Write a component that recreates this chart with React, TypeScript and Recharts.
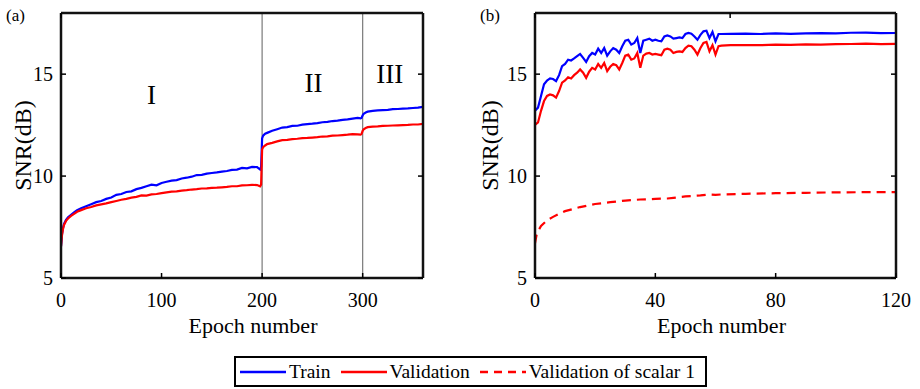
import { LineChart, Line, XAxis, YAxis, ReferenceLine, ReferenceDot, Label } from 'recharts';

const FONT = '"Liberation Serif", "Times New Roman", serif';
const BLUE = '#0000ff';
const RED = '#ff0000';
const TICK_LEN = 5;

// panel (a): stage training, 0-360 epochs
const epochsA = [
  0, 1, 2, 3, 5, 7, 10, 13, 16,
  20, 25, 30, 35, 40, 45, 50, 55, 60, 65, 70, 75, 80, 85, 90, 95,
  100, 105, 110, 115, 120, 125, 130, 135, 140, 145, 150, 155, 160, 165, 170, 175, 180, 185, 190, 195,
  198, 199, 200, 201, 203, 205,
  210, 215, 220, 225, 230, 235, 240, 245, 250, 255, 260, 265, 270, 275, 280, 285, 290, 295,
  298, 299, 300, 301, 303, 305,
  310, 315, 320, 325, 330, 335, 340, 345, 350, 355, 360,
];
const trainA = [
  6.55, 7.15, 7.45, 7.65, 7.85, 7.98, 8.1, 8.22, 8.32,
  8.42, 8.52, 8.62, 8.72, 8.78, 8.88, 8.95, 9.08, 9.12, 9.22, 9.25, 9.36, 9.42, 9.5, 9.58, 9.55,
  9.66, 9.72, 9.78, 9.8, 9.88, 9.92, 9.97, 10.05, 10.06, 10.12, 10.15, 10.18, 10.22, 10.25, 10.3, 10.32, 10.4, 10.38, 10.45, 10.44,
  10.32, 10.45, 11.85, 11.98, 12.08, 12.12,
  12.22, 12.3, 12.38, 12.4, 12.46, 12.47, 12.52, 12.55, 12.57, 12.6, 12.64, 12.66, 12.7, 12.72, 12.76, 12.78, 12.82, 12.85,
  12.83, 12.86, 12.98, 13.06, 13.12, 13.16,
  13.2, 13.22, 13.24, 13.25, 13.28, 13.29, 13.31, 13.32, 13.34, 13.36, 13.4,
];
const valA = [
  6.55, 7.1, 7.4, 7.6, 7.8, 7.92, 8.05, 8.15, 8.25,
  8.33, 8.42, 8.48, 8.56, 8.61, 8.66, 8.72, 8.78, 8.84, 8.88, 8.94, 8.98, 9.05, 9.04, 9.1, 9.12,
  9.16, 9.2, 9.24, 9.25, 9.29, 9.31, 9.34, 9.36, 9.39, 9.4, 9.42, 9.43, 9.45, 9.47, 9.5, 9.5, 9.54, 9.55, 9.57, 9.56,
  9.5, 9.58, 11.3, 11.42, 11.5, 11.57,
  11.63, 11.7, 11.76, 11.78, 11.81, 11.83, 11.86, 11.87, 11.89, 11.91, 11.94, 11.95, 11.98, 11.99, 12.01, 12.03, 12.06, 12.05,
  12.03, 12.08, 12.22, 12.3, 12.36, 12.4,
  12.43, 12.44, 12.46, 12.47, 12.48, 12.49, 12.5, 12.51, 12.53, 12.53, 12.56,
];
const stageBounds = [200, 300];
const stageLabels = [
  { text: 'I', epoch: 90, snr: 14.0 },
  { text: 'II', epoch: 251, snr: 14.6 },
  { text: 'III', epoch: 327, snr: 15.05 },
];

// panel (b): 0-120 epochs
const epochsB = [
  0, 1, 2, 3, 4, 5, 6, 7, 8, 9, 10, 11, 12, 13, 14, 15, 16, 17, 18, 19, 20,
  21, 22, 23, 24, 25, 26, 27, 28, 29, 30, 31, 32, 33, 34, 35, 36, 37, 38, 39, 40,
  41, 42, 43, 44, 45, 46, 47, 48, 49, 50, 51, 52, 53, 54, 55, 56, 57, 58, 59, 60, 61, 62,
  65, 70, 75, 80, 85, 90, 95, 100, 105, 110, 115, 120,
];
const trainB = [
  13.2, 13.36, 13.93, 14.5, 14.69, 14.79, 14.76, 14.66, 14.95, 15.39,
  15.5, 15.71, 15.67, 15.77, 15.88, 15.99, 15.8, 15.6, 15.88, 16.04,
  15.96, 16.25, 16.04, 16.28, 15.91, 16.12, 16.28, 16.2, 16.04, 16.37,
  16.64, 16.69, 16.45, 16.53, 16.77, 16.04, 16.64, 16.69, 16.74, 16.64,
  16.69, 16.64, 16.61, 16.85, 16.9, 16.85, 16.74, 16.77, 16.8, 16.77,
  16.97, 17.02, 16.98, 16.85, 16.69, 16.93, 17.1, 17.13, 16.77, 17.07,
  16.61, 16.97, 16.97,
  16.98, 16.99, 16.97, 17.0, 16.98, 17.0, 17.01, 17.0, 17.03, 17.04, 17.01, 17.02,
];
const valB = [
  12.51, 12.63, 13.2, 13.68, 13.93, 14.0, 13.96, 13.85, 14.17, 14.58,
  14.69, 14.85, 14.79, 14.95, 15.07, 15.23, 15.07, 14.82, 15.12, 15.31,
  15.23, 15.5, 15.31, 15.55, 15.15, 15.36, 15.5, 15.44, 15.23, 15.55,
  15.91, 15.96, 15.71, 15.77, 16.04, 15.31, 15.91, 16.01, 16.04, 15.96,
  15.99, 15.96, 15.93, 16.2, 16.25, 16.2, 16.04, 16.09, 16.12, 16.09,
  16.28, 16.4, 16.37, 16.2, 15.96, 16.28, 16.53, 16.58, 16.12, 16.42,
  15.96, 16.37, 16.4,
  16.42, 16.43, 16.42, 16.45, 16.44, 16.46, 16.45, 16.47, 16.48, 16.5, 16.47, 16.49,
];
const epochsScalar = [0, 0.5, 1, 2, 4, 6, 8, 10, 15, 20, 25, 30, 35, 40, 44, 46, 50, 55, 58, 60, 62, 70, 80, 90, 100, 110, 120];
const valScalar = [
  6.7, 7.1, 7.3, 7.55, 7.83, 8.0, 8.15, 8.28, 8.48, 8.63, 8.72, 8.8, 8.85, 8.88,
  8.9, 8.93, 9.0, 9.05, 9.1, 9.08, 9.1, 9.13, 9.16, 9.18, 9.2, 9.21, 9.21,
];

const snrTicks = [5, 10, 15];
const ticksA = [0, 100, 200, 300];
const ticksB = [0, 40, 80, 120];

const legendItems = [
  { name: 'Train', color: BLUE, dash: undefined as string | undefined },
  { name: 'Validation', color: RED, dash: undefined as string | undefined },
  { name: 'Validation of scalar 1', color: RED, dash: '8 6' },
];

const dataA = epochsA.map((epoch, i) => ({ epoch, train: trainA[i], val: valA[i] }));
const dataB = epochsB.map((epoch, i) => ({ epoch, train: trainB[i], val: valB[i] }));
const dataScalar = epochsScalar.map((epoch, i) => ({ epoch, scalar: valScalar[i] }));

// MATLAB-style ticks: pointing into the box
const BottomTick = (props: any) => {
  const { x, y, payload } = props;
  const axisY = y - 15;
  return (
    <g>
      <line x1={x} x2={x} y1={axisY} y2={axisY - TICK_LEN} stroke="#000" strokeWidth={1.5} />
      <text x={x} y={axisY + 29} textAnchor="middle" fontSize={20} fontFamily={FONT} fill="#000">
        {payload.value}
      </text>
    </g>
  );
};

const TopTick = (props: any) => {
  const { x, y } = props;
  return <line x1={x} x2={x} y1={y} y2={y + TICK_LEN} stroke="#000" strokeWidth={1.5} />;
};

const LeftTick = (props: any) => {
  const { x, y, payload } = props;
  const axisX = x + 8;
  return (
    <g>
      <line x1={axisX} x2={axisX + TICK_LEN} y1={y} y2={y} stroke="#000" strokeWidth={1.5} />
      <text x={x} y={y + 7} textAnchor="end" fontSize={20} fontFamily={FONT} fill="#000">
        {payload.value}
      </text>
    </g>
  );
};

const RightTick = (props: any) => {
  const { x, y } = props;
  return <line x1={x} x2={x - TICK_LEN} y1={y} y2={y} stroke="#000" strokeWidth={1.5} />;
};

const frame = { stroke: '#111', strokeWidth: 2.5 };

const PanelLabel = ({ text, left }: { text: string; left: number }) => (
  <div style={{ position: 'absolute', left, top: 7, fontFamily: FONT, fontSize: 17, lineHeight: '17px', color: '#000' }}>
    {text}
  </div>
);

const App = () => {
  return (
    <div style={{ position: 'absolute', left: 0, top: 0, width: 920, height: 389, background: '#fff', overflow: 'hidden' }}>
      <PanelLabel text="(a)" left={6} />
      <PanelLabel text="(b)" left={480} />

      <div style={{ position: 'absolute', left: 0, top: 0 }}>
        <LineChart width={460} height={345} data={dataA} margin={{ top: 12, right: 36, bottom: 7, left: 0 }}>
          <XAxis
            dataKey="epoch"
            type="number"
            domain={[0, 360]}
            allowDataOverflow
            ticks={ticksA}
            interval={0}
            height={60}
            tickSize={0}
            tickMargin={15}
            tick={BottomTick}
            axisLine={frame}
          >
            <Label value="Epoch number" position="insideBottom" offset={5} dx={11} fontSize={22} fontFamily={FONT} fill="#000" />
          </XAxis>
          <XAxis xAxisId="top" orientation="top" type="number" domain={[0, 360]} allowDataOverflow ticks={ticksA} interval={0} height={1} tickSize={0} tickMargin={0} tick={TopTick} axisLine={frame} />
          <YAxis
            type="number"
            domain={[5, 18]}
            allowDataOverflow
            ticks={snrTicks}
            interval={0}
            width={61}
            tickSize={0}
            tickMargin={8}
            tick={LeftTick}
            axisLine={frame}
          >
            <Label value="SNR(dB)" angle={-90} position="insideLeft" offset={22} fontSize={24} fontFamily={FONT} fill="#000" style={{ textAnchor: 'middle' }} />
          </YAxis>
          <YAxis yAxisId="right" orientation="right" type="number" domain={[5, 18]} allowDataOverflow ticks={snrTicks} interval={0} width={1} tickSize={0} tickMargin={0} tick={RightTick} axisLine={frame} />
          {stageBounds.map((b) => (
            <ReferenceLine key={b} x={b} stroke="#7a7a7a" strokeWidth={1.2} />
          ))}
          {stageLabels.map((s) => (
            <ReferenceDot
              key={s.text}
              x={s.epoch}
              y={s.snr}
              r={1}
              fill="none"
              stroke="none"
              label={{ value: s.text, position: 'center', fontSize: 27, fontFamily: FONT, fill: '#000' }}
            />
          ))}
          <Line type="linear" dataKey="train" stroke={BLUE} strokeWidth={2.2} dot={false} isAnimationActive={false} />
          <Line type="linear" dataKey="val" stroke={RED} strokeWidth={2.2} dot={false} isAnimationActive={false} />
        </LineChart>
      </div>

      <div style={{ position: 'absolute', left: 460, top: 0 }}>
        <LineChart width={460} height={345} data={dataB} margin={{ top: 12, right: 23, bottom: 7, left: 0 }}>
          <XAxis
            dataKey="epoch"
            type="number"
            domain={[0, 120]}
            allowDataOverflow
            ticks={ticksB}
            interval={0}
            height={60}
            tickSize={0}
            tickMargin={15}
            tick={BottomTick}
            axisLine={frame}
          >
            <Label value="Epoch number" position="insideBottom" offset={5} dx={6} fontSize={22} fontFamily={FONT} fill="#000" />
          </XAxis>
          <XAxis xAxisId="top" orientation="top" type="number" domain={[0, 120]} allowDataOverflow ticks={ticksB} interval={0} height={1} tickSize={0} tickMargin={0} tick={TopTick} axisLine={frame} />
          <YAxis
            type="number"
            domain={[5, 18]}
            allowDataOverflow
            ticks={snrTicks}
            interval={0}
            width={75}
            tickSize={0}
            tickMargin={8}
            tick={LeftTick}
            axisLine={frame}
          >
            <Label value="SNR(dB)" angle={-90} position="insideLeft" offset={29} fontSize={24} fontFamily={FONT} fill="#000" style={{ textAnchor: 'middle' }} />
          </YAxis>
          <YAxis yAxisId="right" orientation="right" type="number" domain={[5, 18]} allowDataOverflow ticks={snrTicks} interval={0} width={1} tickSize={0} tickMargin={0} tick={RightTick} axisLine={frame} />
          <Line type="linear" dataKey="train" stroke={BLUE} strokeWidth={2.2} dot={false} isAnimationActive={false} />
          <Line type="linear" dataKey="val" stroke={RED} strokeWidth={2.2} dot={false} isAnimationActive={false} />
          <Line
            type="linear"
            data={dataScalar}
            dataKey="scalar"
            stroke={RED}
            strokeWidth={2.2}
            strokeDasharray="9 6"
            dot={false}
            isAnimationActive={false}
          />
        </LineChart>
      </div>

      <div
        style={{
          position: 'absolute',
          left: 234,
          top: 356,
          width: 473,
          height: 31,
          boxSizing: 'border-box',
          border: '2.5px solid #000',
          display: 'flex',
          alignItems: 'center',
          paddingLeft: 4,
          fontFamily: FONT,
          fontSize: 19.5,
          color: '#000',
          whiteSpace: 'nowrap',
        }}
      >
        {legendItems.map((item, i) => (
          <div key={item.name} style={{ display: 'flex', alignItems: 'center', marginLeft: i === 0 ? 0 : 10 }}>
            <svg width={46} height={6} style={{ marginRight: 3 }}>
              <line x1={0} x2={46} y1={3} y2={3} stroke={item.color} strokeWidth={2.5} strokeDasharray={item.dash} />
            </svg>
            <span>{item.name}</span>
          </div>
        ))}
      </div>
    </div>
  );
};

export default App;
